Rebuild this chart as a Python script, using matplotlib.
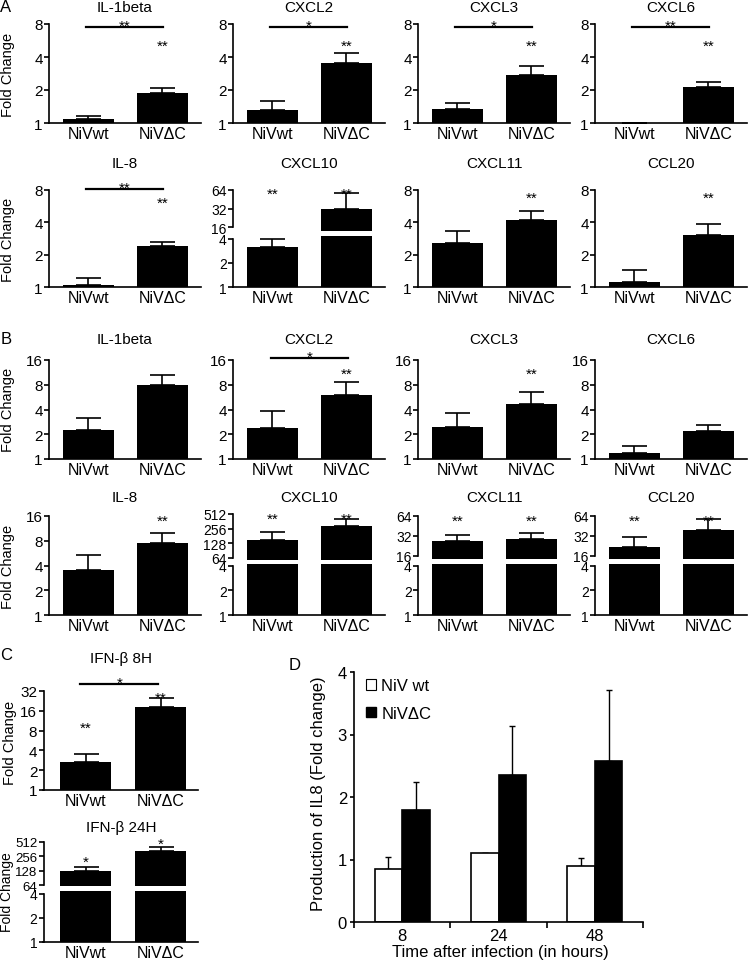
import numpy as np
import matplotlib
matplotlib.use("Agg")
import matplotlib.pyplot as plt
from matplotlib.patches import Patch
from matplotlib.ticker import FixedLocator, NullLocator
from matplotlib.transforms import offset_copy

plt.rcParams['font.family'] = ['Liberation Sans', 'DejaVu Sans']

W, H = 750, 962
fig = plt.figure(figsize=(7.5, 9.62), dpi=100)

groups = ["NiVwt", "NiV\u0394C"]
genes = ["IL-1beta", "CXCL2", "CXCL3", "CXCL6", "IL-8", "CXCL10", "CXCL11", "CCL20"]

# panel A: mean and top of error bar
a_wt = [1.09, 1.31, 1.34, 1.0, 1.04, 3.2, 2.55, 1.11]
a_wt_up = [1.16, 1.59, 1.52, 1.0, 1.21, 4.0, 3.3, 1.43]
a_dc = [1.88, 3.53, 2.74, 2.13, 2.41, 32, 4.17, 3.03]
a_dc_up = [2.08, 4.35, 3.31, 2.37, 2.62, 58, 5.06, 3.9]

# panel B
b_wt = [2.25, 2.38, 2.45, 1.18, 3.53, 150, 26.9, 21.8]
b_wt_up = [3.15, 3.83, 3.63, 1.44, 5.36, 219, 33, 31]
b_dc = [7.9, 6.0, 4.66, 2.19, 7.5, 290, 28.8, 39.4]
b_dc_up = [10.5, 8.6, 6.5, 2.59, 9.9, 400, 35.5, 57.7]

# panel C
ifn_titles = ["IFN-\u03b2 8H", "IFN-\u03b2 24H"]
c_wt = [2.64, 128]
c_wt_up = [3.5, 155]
c_dc = [18.4, 324]
c_dc_up = [25, 393]

# panel D
hours = ["8", "24", "48"]
d_wt = [0.85, 1.10, 0.90]
d_wt_err = [0.19, 0.0, 0.12]
d_dc = [1.79, 2.35, 2.58]
d_dc_err = [0.45, 0.79, 1.13]

# significance marks: gene -> text
a_bracket = {"IL-1beta": "**", "CXCL2": "*", "CXCL3": "*", "CXCL6": "**", "IL-8": "**"}
a_stars_dc = {g: "**" for g in genes}
a_stars_wt = {"CXCL10": "**"}
b_bracket = {"CXCL2": "*"}
b_stars_dc = {"CXCL2": "**", "CXCL3": "**", "IL-8": "**", "CXCL10": "**", "CXCL11": "**", "CCL20": "**"}
b_stars_wt = {"CXCL10": "**", "CXCL11": "**", "CCL20": "**"}

col_x = [49, 233, 418, 595]


def log_axes(x0, ytop, ybot, ylim, ticks, xlabels=True, width=152, xlim=(-0.53, 1.52), lsize=11):
    ax = fig.add_axes([x0 / W, 1 - ybot / H, width / W, (ybot - ytop) / H])
    ax.set_facecolor('none')
    ax.set_yscale('log', base=2)
    ax.set_ylim(*ylim)
    ax.set_xlim(*xlim)
    ax.yaxis.set_major_locator(FixedLocator(ticks))
    ax.yaxis.set_minor_locator(NullLocator())
    ax.set_yticklabels([str(t) for t in ticks])
    ax.spines[['top', 'right']].set_visible(False)
    ax.spines['left'].set_linewidth(1.2)
    ax.spines['bottom'].set_linewidth(1.2)
    ax.spines['left'].set_bounds(ticks[0], ticks[-1])
    ax.tick_params(axis='y', length=3.5, width=1.2, labelsize=lsize, pad=1)
    if xlabels:
        ax.set_xticks([0, 1])
        ax.set_xticklabels(groups, fontsize=11.5)
        ax.tick_params(axis='x', length=0, pad=2)
    else:
        ax.spines['bottom'].set_visible(False)
        ax.set_xticks([])
    return ax


def draw_bars(ax, vals, ups, cap=9):
    x = np.arange(len(vals))
    vals = np.array(vals, float)
    ups = np.array(ups, float)
    ax.bar(x, vals - 1, bottom=1, width=0.68, color='black')
    ax.errorbar(x, vals, yerr=[np.zeros(len(vals)), ups - vals], fmt='none',
                ecolor='black', elinewidth=1.2, capsize=cap, capthick=1.2)


def star(ax, x, y, s, size=11):
    tr = offset_copy(ax.transData, fig=fig, y=-9, units='dots')
    ax.text(x, y, s, transform=tr, ha='center', va='baseline', fontsize=size)


def bracket(ax, y, s, x0=-0.03, x1=1.01):
    ax.plot([x0, x1], [y, y], color='black', lw=1.6, clip_on=False)
    tr = offset_copy(ax.transData, fig=fig, y=-3, units='dots')
    ax.text((x0 + x1) / 2, y, s, transform=tr, ha='center', va='baseline', fontsize=11)


def title(ax, y, s):
    bb = ax.get_position()
    fig.text((bb.x0 + bb.x1) / 2, 1 - y / H, s, ha='center', va='center', fontsize=11)


def ylab(x, y, s="Fold Change", size=10.5):
    fig.text(x / W, 1 - y / H, s, rotation=90, ha='center', va='center', fontsize=size)


# ---------------- Panel A ----------------
for i, g in enumerate(genes):
    col = i % 4
    x0 = col_x[col]
    vals = [a_wt[i], a_dc[i]]
    ups = [a_wt_up[i], a_dc_up[i]]
    if g == "CXCL10":
        top = log_axes(x0, 191, 232, (13.8, 64), [16, 32, 64], xlabels=False, lsize=10)
        bot = log_axes(x0, 237, 288, (1, 4.36), [1, 2, 4], lsize=10)
        for ax in (top, bot):
            draw_bars(ax, vals, ups)
        star(top, 0, 66, a_stars_wt[g])
        star(top, 1, 66, a_stars_dc[g])
        title(top, 164, g)
        continue
    if i < 4:
        ax = log_axes(x0, 25, 124, (1, 8), [1, 2, 4, 8])
        title(ax, 8, g)
        sy, ly = 5.6, 7.5
    else:
        ax = log_axes(x0, 191, 288, (1, 8), [1, 2, 4, 8])
        title(ax, 164, g)
        sy = 6.8 if g == "IL-8" else 7.6
        ly = 8.2
    draw_bars(ax, vals, ups)
    if g in a_bracket:
        bracket(ax, ly, a_bracket[g])
    if g in a_stars_dc:
        star(ax, 1, sy, a_stars_dc[g])

ylab(8, 75)
ylab(8, 240)

# ---------------- Panel B ----------------
for i, g in enumerate(genes):
    col = i % 4
    x0 = col_x[col]
    vals = [b_wt[i], b_dc[i]]
    ups = [b_wt_up[i], b_dc_up[i]]
    if i >= 5:
        if g == "CXCL10":
            top = log_axes(x0, 515, 561, (58.2, 512), [64, 128, 256, 512], xlabels=False, lsize=10)
            sy = 520
        else:
            top = log_axes(x0, 517, 560, (14.4, 64), [16, 32, 64], xlabels=False, lsize=10)
            sy = 64
        bot = log_axes(x0, 565, 616, (1, 4.23), [1, 2, 4], lsize=10)
        for ax in (top, bot):
            draw_bars(ax, vals, ups)
        star(top, 0, sy, b_stars_wt[g])
        star(top, 1, sy, b_stars_dc[g])
        title(top, 498, g)
        continue
    if i < 4:
        ax = log_axes(x0, 361, 460, (1, 16), [1, 2, 4, 8, 16])
        title(ax, 340, g)
        sy = 12.4
    else:
        ax = log_axes(x0, 517, 616, (1, 16), [1, 2, 4, 8, 16])
        title(ax, 498, g)
        sy = 16
    draw_bars(ax, vals, ups)
    if g in b_bracket:
        bracket(ax, 16.9, b_bracket[g], -0.02, 1.02)
    if g in b_stars_dc:
        star(ax, 1, sy, b_stars_dc[g])

ylab(8, 410)
ylab(8, 567)

# ---------------- Panel C ----------------
cx = 43.5
ax8 = log_axes(cx, 692, 791, (1, 32), [1, 2, 4, 8, 16, 32], width=154.5, xlim=(-0.56, 1.5))
draw_bars(ax8, [c_wt[0], c_dc[0]], [c_wt_up[0], c_dc_up[0]])
bracket(ax8, 40.8, "*", -0.07, 0.97)
star(ax8, 0, 10.6, "**")
star(ax8, 1, 29.9, "**")
title(ax8, 659, ifn_titles[0])

top24 = log_axes(cx, 843, 887, (61, 512), [64, 128, 256, 512], xlabels=False,
                 width=154.5, xlim=(-0.56, 1.5), lsize=9.5)
bot24 = log_axes(cx, 892, 943, (1, 4.36), [1, 2, 4], width=154.5, xlim=(-0.56, 1.5), lsize=10)
for ax in (top24, bot24):
    draw_bars(ax, [c_wt[1], c_dc[1]], [c_wt_up[1], c_dc_up[1]])
star(top24, 0, 247, "*")
star(top24, 1, 592, "*")
title(top24, 828, ifn_titles[1])

ylab(10, 743)
ylab(7, 892, size=10)

# ---------------- Panel D ----------------
axd = fig.add_axes([354 / W, 1 - 923 / H, 289 / W, 250 / H])
x = np.arange(len(hours))
w = 0.285
axd.bar(x - w / 2, d_wt, w, color='white', edgecolor='black', linewidth=1.2, zorder=2)
axd.bar(x + w / 2, d_dc, w, color='black', edgecolor='black', linewidth=1.2, zorder=2)
axd.errorbar(x - w / 2, d_wt, yerr=[np.zeros(3), d_wt_err], fmt='none', ecolor='black',
             elinewidth=1, capsize=2.5, capthick=1, zorder=1)
axd.errorbar(x + w / 2, d_dc, yerr=[np.zeros(3), d_dc_err], fmt='none', ecolor='black',
             elinewidth=1, capsize=2.5, capthick=1, zorder=1)
axd.set_xlim(-0.5, 2.5)
axd.set_ylim(0, 4)
axd.set_yticks([0, 1, 2, 3, 4])
axd.set_xticks(x)
axd.set_xticklabels(hours)
axd.set_xticks([-0.5, 0.5, 1.5, 2.5], minor=True)
axd.tick_params(axis='x', which='major', length=0, labelsize=12, pad=4)
axd.tick_params(axis='x', which='minor', length=4, width=1.2)
axd.tick_params(axis='y', length=3, width=1.2, labelsize=12, pad=2)
axd.spines[['top', 'right']].set_visible(False)
axd.spines['left'].set_linewidth(1.2)
axd.spines['bottom'].set_linewidth(1.2)
axd.legend(handles=[Patch(facecolor='white', edgecolor='black', linewidth=0.8),
                    Patch(facecolor='black', edgecolor='black')],
           labels=["NiV wt", "NiV\u0394C"], loc='upper left', bbox_to_anchor=(0.04, 0.975),
           frameon=False, fontsize=12, handlelength=0.6, handleheight=0.6,
           handletextpad=0.35, labelspacing=0.75, borderpad=0, borderaxespad=0)
fig.text(318 / W, 1 - 794 / H, "Production of IL8 (Fold change)", rotation=90,
         ha='center', va='center', fontsize=12)
fig.text(500 / W, 1 - 953 / H, "Time after infection (in hours)", ha='center',
         va='center', fontsize=12)

# panel letters
for lx, ly, s in [(6, 8, "A"), (6, 340, "B"), (6, 656, "C"), (295, 665, "D")]:
    fig.text(lx / W, 1 - ly / H, s, ha='center', va='center', fontsize=12)

fig.savefig("out.png", dpi=100)
